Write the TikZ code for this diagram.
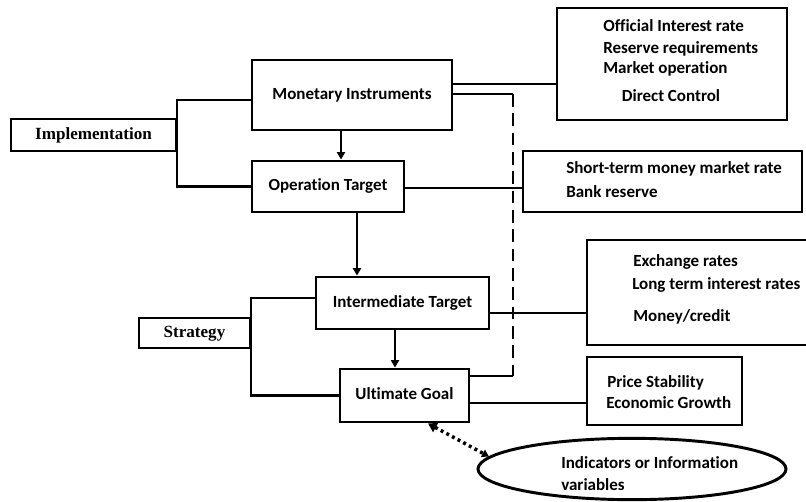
\documentclass[tikz,border=0pt]{standalone}
\usepackage{fontspec}
\setmainfont{Carlito}[Ligatures=NoCommon]
\newfontfamily\serifb{Liberation Serif}
\usetikzlibrary{calc,arrows.meta,shapes.geometric}
\begin{document}
\begin{tikzpicture}[x=0.75pt,y=-0.75pt,
  ln/.style={line width=2.2pt},
  box/.style={draw, line width=2.2pt, inner sep=0pt, text height=0.65em, text depth=0pt,
    font=\bfseries\fontsize{12.75}{15}\selectfont},
  sbox/.style={box, font=\serifb\bfseries\fontsize{12.8}{15}\selectfont},
  txt/.style={anchor=west, inner sep=0pt, text height=0.65em, text depth=0pt,
    font=\bfseries\fontsize{12.75}{15}\selectfont},
  arr/.style={ln, -{Triangle[length=5.5pt,width=6pt]}},
  dsh/.style={ln, dash pattern=on 9.5pt off 5pt},
  dotarr/.style={line width=2.6pt, dash pattern=on 2.2pt off 2.6pt,
    {Triangle[length=6.5pt,width=7.5pt]}-{Triangle[length=5pt,width=6pt]}}
]
\useasboundingbox (0,0) rectangle (806,502);

% main chain
\node[box, minimum width=150pt, minimum height=52.5pt] (mi) at (352,95) {Monetary Instruments};
\node[box, minimum width=114pt, minimum height=38.25pt] (ot) at (328,186.5) {Operation Target};
\node[box, minimum width=129.75pt, minimum height=39pt] (it) at (402.5,303) {Intermediate Target};
\node[box, minimum width=96.75pt, minimum height=39.75pt] (ug) at (404.5,395.5) {Ultimate Goal};

% left labels
\node[sbox, minimum width=123.75pt, minimum height=24pt] (impl) at (93.5,135) {Implementation};
\node[sbox, minimum width=83.25pt, minimum height=22.5pt] (strat) at (194.5,333) {Strategy};

% right boxes
\node[box, minimum width=172.5pt, minimum height=84pt] (b1) at (672,64) {};
\node[box, minimum width=209.25pt, minimum height=45.75pt] (b2) at (662.5,181.5) {};
\node[box, minimum width=171pt, minimum height=78.75pt] (b3) at (701,292.5) {};
\node[box, minimum width=116.25pt, minimum height=51pt] (b4) at (664.5,391) {};
\node[draw, ellipse, line width=2.2pt, inner sep=0pt,
  minimum width=231pt, minimum height=46pt] (el) at (632,469) {};

% texts in right boxes
\node[txt] (t1a) at (603,27) {Official Interest rate};
\node[txt] (t1b) at (603,49) {Reserve requirements};
\node[txt] (t1c) at (603,69) {Market operation};
\node[txt, anchor=center] (t1d) at (671,97) {Direct Control};
\node[txt] (t2a) at (566,169) {Short-term money market rate};
\node[txt] (t2b) at (566,193) {Bank reserve};
\node[txt] (t3a) at (633,262) {Exchange rates};
\node[txt] (t3b) at (632,285) {Long term interest rates};
\node[txt] (t3c) at (633,317) {Money/credit};
\node[txt] (t4a) at (607,383) {Price Stability};
\node[txt] (t4b) at (606,404) {Economic Growth};
\node[txt] (t5a) at (561,464) {Indicators or Information};
\node[txt] (t5b) at (561,486) {variables};

% brackets
\coordinate (ib) at (177,100);
\draw[ln] (mi.west |- ib) -- (ib) |- (ot.west);
\coordinate (sb) at (251,298);
\draw[ln] (it.west |- sb) -- (sb) |- (ug.west);

% vertical arrows
\draw[arr] ($(mi.south)+(-11,0)$) coordinate (a1) -- (a1 |- ot.north);
\draw[arr] ($(ot.south)+(29,0)$) coordinate (a2) -- (a2 |- it.north);
\draw[arr] ($(it.south)+(-7.5,0)$) coordinate (a3) -- (a3 |- ug.north);

% dashed feedback
\coordinate (d1) at (513,94);
\coordinate (d2) at (513,376);
\draw[ln] (mi.east |- d1) -- (d1);
\draw[dsh] (d1) -- (d2);
\draw[ln] (d2) -- (d2 -| ug.east);

% right connectors
\coordinate (c1) at (0,84);
\draw[ln] (c1 -| mi.east) -- (c1 -| b1.west);
\coordinate (c2) at (0,188);
\draw[ln] (c2 -| ot.east) -- (c2 -| b2.west);
\coordinate (c3) at (0,313);
\draw[ln] (c3 -| it.east) -- (c3 -| b3.west);
\coordinate (c4) at (0,403);
\draw[ln] (c4 -| ug.east) -- (c4 -| b4.west);

% dotted double arrow
\draw[dotarr] ($(ug.south)+(23.5,0)$) -- (el.175);
\end{tikzpicture}
\end{document}
